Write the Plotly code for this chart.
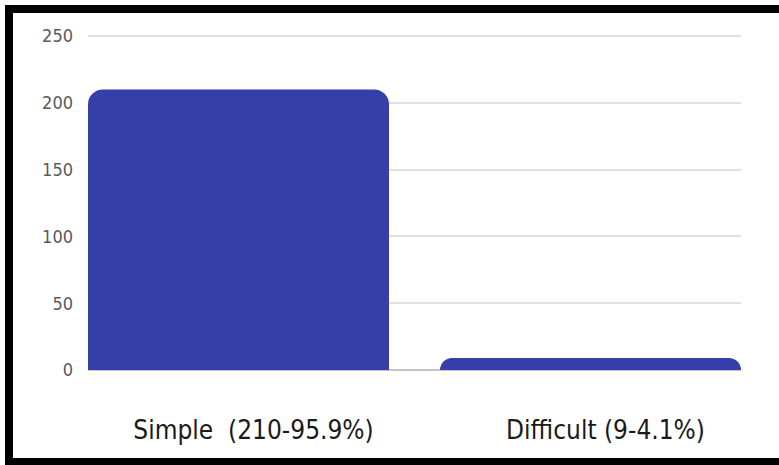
import plotly.graph_objects as go

# Survey answers: difficulty rating
categories = ["Simple\u00a0 (210-95.9%)", "Difficult (9-4.1%)"]
counts = [210, 9]
y_ticks = [0, 50, 100, 150, 200, 250]

W, H = 779, 465
ML, MR, MT, MB = 88, 38, 34, 95
PW, PH = W - ML - MR, H - MT - MB
Y_TOP = 251.5  # a little headroom so the 250 gridline is drawn inside the plot

BAR_COLOR = "#353EA9"
NARROW = "Liberation Sans Narrow, DejaVu Sans Condensed, Arial Narrow, sans-serif"


def px_x(px):
    return (px - ML) / PW


def px_y(py):
    return (H - MB - py) / PH


fig = go.Figure(
    go.Bar(
        x=categories,
        y=counts,
        marker=dict(color=BAR_COLOR, cornerradius=15, line=dict(width=0)),
        hoverinfo="x+y",
    )
)

# Black frame on the left, top and bottom edges
frame = [
    (5, 5, 13, H),
    (5, 5, W, 13),
    (5, 458, W, H),
]
shapes = [
    dict(
        type="rect", xref="paper", yref="paper",
        x0=px_x(x0), x1=px_x(x1), y0=px_y(y1), y1=px_y(y0),
        fillcolor="black", line=dict(width=0), layer="above",
    )
    for x0, y0, x1, y1 in frame
]

fig.update_layout(
    width=W,
    height=H,
    margin=dict(l=ML, r=MR, t=MT, b=MB, pad=0),
    paper_bgcolor="white",
    plot_bgcolor="white",
    bargap=0.145,
    showlegend=False,
    shapes=shapes,
    xaxis=dict(
        range=[-0.4275, 1.4275],
        showgrid=False,
        showline=False,
        zeroline=False,
        ticks="",
        tickfont=dict(family=NARROW, size=26, color="#1a1a1a"),
        ticklabelstandoff=42,
        ticklabelshift=15,
    ),
    yaxis=dict(
        range=[0, Y_TOP],
        tickvals=y_ticks,
        showgrid=True,
        gridcolor="#e0e0e0",
        gridwidth=1.5,
        zeroline=True,
        zerolinecolor="#c4c4c4",
        zerolinewidth=2,
        showline=False,
        ticks="",
        tickfont=dict(family=NARROW, size=18, color="#5a5a5a"),
        ticklabelstandoff=14,
    ),
)

fig.write_html("out.html")
